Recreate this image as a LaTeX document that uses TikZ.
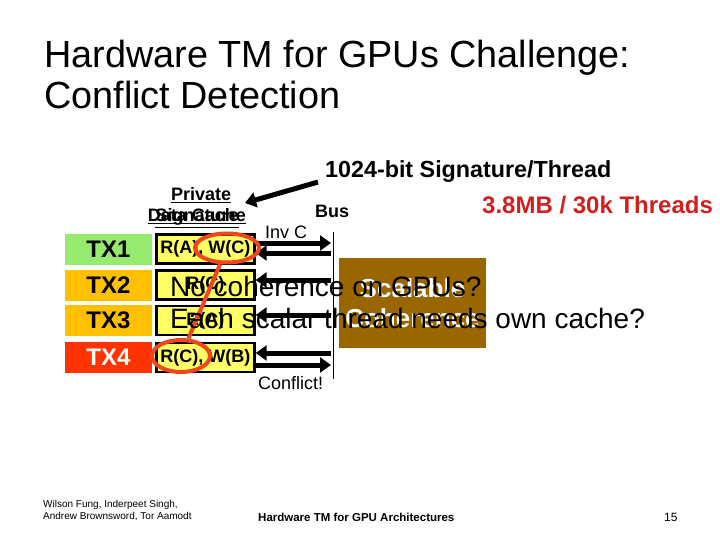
\documentclass[tikz,border=0pt]{standalone}
\usepackage{fontspec}
\setmainfont{Liberation Sans}
\usetikzlibrary{positioning,arrows.meta,shapes.geometric}

\definecolor{txgreen}{RGB}{150,235,110}
\definecolor{txorange}{RGB}{255,192,0}
\definecolor{txred}{RGB}{255,51,0}
\definecolor{cacheyellow}{RGB}{255,255,102}
\definecolor{ringred}{RGB}{240,70,30}
\definecolor{cohbrown}{RGB}{153,102,0}
\definecolor{costred}{RGB}{210,30,30}

\begin{document}
\begin{tikzpicture}[x=1pt,y=-1pt,
    slidetext/.style={anchor=base west, inner sep=0pt},
    txlabel/.style={minimum width=87pt, minimum height=31pt, inner sep=0pt,
        font=\fontsize{24}{24}\selectfont\bfseries},
    cachebox/.style={draw, line width=2.5pt, fill=cacheyellow, minimum width=98pt,
        minimum height=29pt, inner sep=0pt, font=\fontsize{18}{18}\selectfont\bfseries},
    busarrow/.style={line width=5pt, -{Triangle[length=11pt,width=15pt]}},
    ring/.style={ellipse, draw=ringred, line width=4pt, inner sep=0pt}]

        % Fix the slide size
        \useasboundingbox (0,0) rectangle (720,540);

        % Define parameters
        \def\busx{331}      % Where the arrows meet the bus
        \def\textx{170}     % Left edge of the question lines

        % Title
        \node[slidetext, font=\fontsize{37.8}{37.8}\selectfont] (title) at (44,68) {Hardware TM for GPUs Challenge:};
        \node[slidetext, font=\fontsize{37.8}{37.8}\selectfont] (subtitle) at (44,109) {Conflict Detection};

        % Signature and cost
        \node[slidetext, font=\fontsize{23.3}{23.3}\selectfont\bfseries] (sigtext) at (325,178) {1024-bit Signature/Thread};
        \node[slidetext, font=\fontsize{24}{24}\selectfont\bfseries, text=costred] (cost) at (482,214) {3.8MB / 30k Threads};

        % Cache labels (overlapping)
        \node[slidetext, font=\fontsize{18}{18}\selectfont\bfseries] (privlabel) at (171,201) {\underline{Private}};
        \node[anchor=base, inner sep=0pt, font=\fontsize{18}{18}\selectfont\bfseries] (cachelabel) at (197,222) {\underline{Data Cache}};
        \node[anchor=base, inner sep=0pt, font=\fontsize{18}{18}\selectfont\bfseries] (siglabel) at (197,222) {\underline{Signature}};
        \coordinate (privtip) at (245,203);
        \draw[busarrow] ([shift={(-7,10)}]sigtext.west) -- (privtip);

        % Bus
        \node[slidetext, font=\fontsize{18}{18}\selectfont\bfseries] (buslabel) at (315,218) {Bus};
        \node[slidetext, font=\fontsize{18}{18}\selectfont] (invlabel) at (265,238) {Inv C};
        \coordinate (bustop) at (335,232);
        \coordinate (busbot) at (335,379);
        \draw[double, double distance=3pt, line width=0.9pt] (bustop) -- (busbot);

        % Coherence box
        \node[fill=cohbrown, minimum width=147pt, minimum height=90pt, inner sep=0pt,
            text=white, align=center, font=\fontsize{26}{30}\selectfont\bfseries] (cohbox) at (412.5,303) {Scalable\\Coherence};

        % Transaction rows with their caches
        \foreach \name/\tx/\y/\col/\ink/\reads in {one/TX1/249/txgreen/black/{R(A), W(C)},
                two/TX2/285/txorange/black/R(C), three/TX3/320.5/txorange/black/R(A),
                four/TX4/357.5/txred/white/{R(C), W(B)}} {
            \node[txlabel, fill=\col, text=\ink] (tx\name) at (108.5,\y) {\tx};
            \node[cachebox, right=3pt of tx\name] (cache\name) {\reads};
        }

        % Arrows between the caches and the bus
        \coordinate (tapone) at (\busx,243);
        \coordinate (invone) at (\busx,253);
        \coordinate (invtwo) at (\busx,280);
        \coordinate (invthree) at (\busx,315);
        \coordinate (invfour) at (\busx,353);
        \coordinate (tapfour) at (\busx,365);
        \draw[busarrow] (cacheone.east |- tapone) -- (tapone);
        \draw[busarrow] (invone) -- (cacheone.east |- invone);
        \draw[busarrow] (invtwo) -- (cachetwo.east |- invtwo);
        \draw[busarrow] (invthree) -- (cachethree.east |- invthree);
        \draw[busarrow] (invfour) -- (cachefour.east |- invfour);
        \draw[busarrow] (cachefour.east |- tapfour) -- (tapfour);

        % Mark the conflict
        \node[ring, minimum width=64pt, minimum height=29pt] (wcring) at (227,248) {};
        \node[ring, minimum width=58pt, minimum height=32pt] (rcring) at (181,356) {};
        \draw[ringred, line width=4pt] (wcring) -- (rcring);
        \node[slidetext, font=\fontsize{18}{18}\selectfont] (conflict) at (258,389) {Conflict!};

        % Questions on top
        \node[slidetext, font=\fontsize{28}{28}\selectfont] (nocoh) at (\textx,296) {No coherence on GPUs?};
        \node[slidetext, font=\fontsize{28}{28}\selectfont] (owncache) at (\textx,328) {Each scalar thread needs own cache?};

        % Footer
        \node[anchor=north west, inner sep=0pt, align=left, font=\fontsize{10}{12}\selectfont] (authors) at (43,500) {Wilson Fung, Inderpeet Singh,\\Andrew Brownsword, Tor Aamodt};
        \node[slidetext, font=\fontsize{11.5}{11.5}\selectfont\bfseries] (talk) at (258,521) {Hardware TM for GPU Architectures};
        \node[slidetext, font=\fontsize{12}{12}\selectfont] (page) at (664,521) {15};

    \end{tikzpicture}
\end{document}
